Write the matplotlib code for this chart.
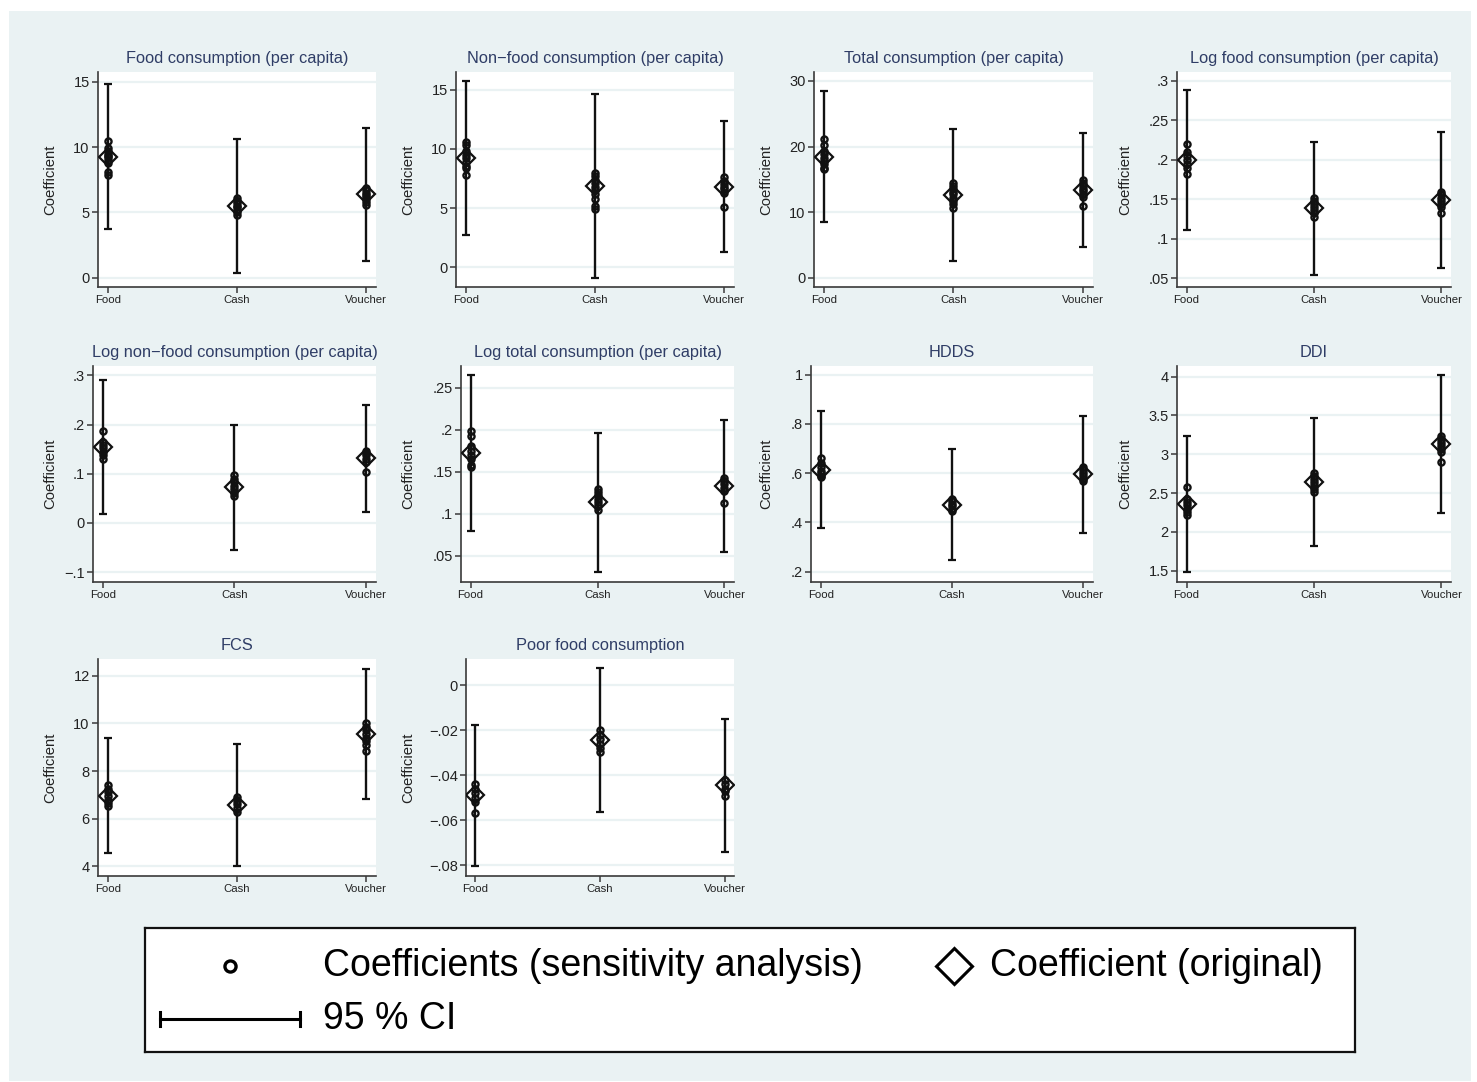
import matplotlib
matplotlib.use("Agg")
import matplotlib.pyplot as plt
from matplotlib.patches import Rectangle
from matplotlib.lines import Line2D

plt.rcParams['font.family'] = ['Liberation Sans', 'DejaVu Sans']

# ---------------- data ----------------
groups = ["Food", "Cash", "Voucher"]

titles = [
    "Food consumption (per capita)",
    "Non\u2212food consumption (per capita)",
    "Total consumption (per capita)",
    "Log food consumption (per capita)",
    "Log non\u2212food consumption (per capita)",
    "Log total consumption (per capita)",
    "HDDS",
    "DDI",
    "FCS",
    "Poor food consumption",
]

coef_orig = [
    [9.23, 5.49, 6.38],
    [9.20, 6.87, 6.81],
    [18.45, 12.62, 13.38],
    [0.1997, 0.1385, 0.149],
    [0.1547, 0.0723, 0.1324],
    [0.1725, 0.1136, 0.133],
    [0.6128, 0.4712, 0.598],
    [2.356, 2.643, 3.131],
    [6.97, 6.578, 9.56],
    [-0.0488, -0.0242, -0.0444],
]

ci_low = [
    [3.71, 0.38, 1.27],
    [2.73, -0.93, 1.27],
    [8.51, 2.53, 4.71],
    [0.111, 0.0538, 0.0631],
    [0.0182, -0.0547, 0.023],
    [0.080, 0.0306, 0.0547],
    [0.3754, 0.2459, 0.3578],
    [1.483, 1.817, 2.241],
    [4.56, 4.01, 6.816],
    [-0.0803, -0.0561, -0.0739],
]

ci_high = [
    [14.82, 10.58, 11.49],
    [15.76, 14.64, 12.38],
    [28.43, 22.66, 22.05],
    [0.2886, 0.2229, 0.2347],
    [0.2912, 0.1986, 0.2405],
    [0.2654, 0.1966, 0.2117],
    [0.8516, 0.6978, 0.834],
    [3.238, 3.465, 4.021],
    [9.366, 9.128, 12.29],
    [-0.0177, 0.0076, -0.0150],
]

sens_food = [
    [10.45, 9.9, 9.7, 9.5, 9.3, 9.2, 9.0, 8.8, 8.1, 7.85],
    [10.6, 10.3, 9.8, 9.5, 9.2, 8.9, 8.6, 8.4, 7.8],
    [21.2, 20.2, 19.3, 18.8, 18.2, 17.8, 17.3, 16.8, 16.6],
    [0.22, 0.21, 0.205, 0.20, 0.195, 0.19, 0.182],
    [0.187, 0.165, 0.158, 0.152, 0.145, 0.138, 0.130],
    [0.198, 0.192, 0.180, 0.175, 0.170, 0.165, 0.158, 0.155],
    [0.662, 0.640, 0.625, 0.610, 0.600, 0.590, 0.583],
    [2.575, 2.42, 2.38, 2.34, 2.30, 2.26, 2.22],
    [7.4, 7.25, 7.1, 6.95, 6.8, 6.65, 6.55],
    [-0.044, -0.046, -0.048, -0.050, -0.052, -0.0565],
]

sens_cash = [
    [6.1, 5.9, 5.7, 5.5, 5.4, 5.2, 5.0, 4.8],
    [8.0, 7.7, 7.4, 7.1, 6.8, 6.5, 6.2, 5.8, 5.2, 4.9],
    [14.4, 14.0, 13.6, 13.1, 12.7, 12.2, 11.7, 11.2, 10.6],
    [0.152, 0.148, 0.144, 0.140, 0.136, 0.132, 0.127],
    [0.097, 0.090, 0.083, 0.075, 0.068, 0.060, 0.054],
    [0.130, 0.126, 0.122, 0.118, 0.114, 0.110, 0.105],
    [0.497, 0.485, 0.475, 0.465, 0.455, 0.446],
    [2.76, 2.72, 2.68, 2.64, 2.60, 2.55, 2.51],
    [6.9, 6.75, 6.6, 6.45, 6.3],
    [-0.020, -0.022, -0.024, -0.026, -0.028, -0.0295],
]

sens_voucher = [
    [6.9, 6.7, 6.5, 6.3, 6.2, 6.0, 5.8, 5.55],
    [7.6, 7.3, 7.0, 6.8, 6.6, 6.3, 5.1],
    [14.9, 14.5, 14.0, 13.6, 13.2, 12.8, 12.3, 11.0],
    [0.159, 0.156, 0.152, 0.148, 0.144, 0.140, 0.133],
    [0.147, 0.142, 0.137, 0.130, 0.124, 0.104],
    [0.142, 0.139, 0.135, 0.131, 0.127, 0.113],
    [0.625, 0.612, 0.600, 0.588, 0.578, 0.567],
    [3.23, 3.19, 3.15, 3.11, 3.07, 3.03, 2.90],
    [10.0, 9.85, 9.7, 9.55, 9.4, 9.25, 9.1, 8.82],
    [-0.042, -0.044, -0.046, -0.047, -0.049],
]

y_ticks = [
    [0, 5, 10, 15],
    [0, 5, 10, 15],
    [0, 10, 20, 30],
    [0.05, 0.1, 0.15, 0.2, 0.25, 0.3],
    [-0.1, 0, 0.1, 0.2, 0.3],
    [0.05, 0.1, 0.15, 0.2, 0.25],
    [0.2, 0.4, 0.6, 0.8, 1.0],
    [1.5, 2, 2.5, 3, 3.5, 4],
    [4, 6, 8, 10, 12],
    [-0.08, -0.06, -0.04, -0.02, 0],
]

legend_labels = ["Coefficients (sensitivity analysis)", "Coefficient (original)", "95 % CI"]

# ---------------- layout (pixels) ----------------
W, H = 1477, 1082
y_limits = [
    (-0.71, 15.74), (-1.69, 16.52), (-1.42, 31.37), (0.0386, 0.3114),
    (-0.1203, 0.319), (0.0188, 0.2757), (0.158, 1.035), (1.354, 4.137),
    (3.594, 12.70), (-0.0847, 0.01173),
]
# left, right, top, bottom of each plot region
boxes = [
    (98, 376, 72, 287), (456, 734, 72, 287), (814, 1093, 72, 287), (1177, 1451, 72, 287),
    (93, 376, 366, 582), (461, 734, 366, 582), (811, 1093, 366, 582), (1177, 1451, 366, 582),
    (98, 376, 659, 876), (466, 734, 659, 876),
]
ylabel_x = [57, 415, 773, 1132, 57, 415, 773, 1132, 57, 415]

BG = "#EAF2F3"
TITLE_C = "#2F3D66"
AX_C = "#3a3a3a"


def stata_fmt(v):
    if abs(v) < 1e-12:
        return "0"
    s = f"{abs(v):g}"
    if s.startswith("0."):
        s = s[1:]
    return ("\u2212" if v < 0 else "") + s


fig = plt.figure(figsize=(W / 100, H / 100), dpi=100, facecolor="white")
fig.patches.append(Rectangle((9 / W, 1 - 1081 / H), (1471 - 9) / W, (1081 - 11) / H,
                             transform=fig.transFigure, facecolor=BG, edgecolor="none", zorder=-10))

xpos = [1, 2, 3]
for i in range(len(titles)):
    l, r, t, b = boxes[i]
    ax = fig.add_axes([l / W, 1 - b / H, (r - l) / W, (b - t) / H])
    ax.set_facecolor("white")
    ax.set_xlim(0.925, 3.075)
    ax.set_ylim(*y_limits[i])
    for s in ["top", "right"]:
        ax.spines[s].set_visible(False)
    for s in ["left", "bottom"]:
        ax.spines[s].set_color(AX_C)
        ax.spines[s].set_linewidth(1.2)

    ax.set_yticks(y_ticks[i])
    ax.set_yticklabels([stata_fmt(v) for v in y_ticks[i]], fontsize=10.5, color="#222222")
    ax.set_xticks(xpos)
    ax.set_xticklabels(groups, fontsize=8.2, color="#222222")
    ax.tick_params(axis="both", length=4, width=1.1, color=AX_C, pad=2)
    ax.yaxis.grid(True, color=BG, linewidth=1.6)
    ax.set_axisbelow(True)

    # CI
    for j in range(3):
        ax.errorbar(xpos[j], coef_orig[i][j],
                    yerr=[[coef_orig[i][j] - ci_low[i][j]], [ci_high[i][j] - coef_orig[i][j]]],
                    fmt="none", ecolor="#111111", elinewidth=1.7, capsize=3.2, capthick=1.6, zorder=2)
    # sensitivity coefficients
    for j, sens in enumerate([sens_food[i], sens_cash[i], sens_voucher[i]]):
        ax.plot([xpos[j]] * len(sens), sens, linestyle="none", marker="o", markersize=4.4,
                markerfacecolor="none", markeredgecolor="#111111", markeredgewidth=1.7, zorder=3)
    # original coefficient
    ax.plot(xpos, coef_orig[i], linestyle="none", marker="D", markersize=9.5,
            markerfacecolor="none", markeredgecolor="#111111", markeredgewidth=1.6, zorder=4)

    ax.text(0.5, 1 + 14 / (b - t), titles[i], transform=ax.transAxes, ha="center", va="center",
            fontsize=11.8, color=TITLE_C)
    ax.set_ylabel("Coefficient", fontsize=10.7, color="#222222")
    ax.yaxis.set_label_coords((ylabel_x[i] - l) / (r - l), 0.5)

# ---------------- legend ----------------
ll, lr, lt, lb = 145, 1355, 928, 1052
lax = fig.add_axes([ll / W, 1 - lb / H, (lr - ll) / W, (lb - lt) / H])
lax.set_facecolor("white")
lax.set_xlim(0, 1)
lax.set_ylim(0, 1)
lax.set_xticks([])
lax.set_yticks([])
for s in lax.spines.values():
    s.set_color("#111111")
    s.set_linewidth(1.6)

row1, row2 = 0.69, 0.265
lax.add_line(Line2D([0.0702], [row1], linestyle="none", marker="o", markersize=8,
                    markerfacecolor="none", markeredgecolor="black", markeredgewidth=2.4))
lax.text(0.147, row1, legend_labels[0], fontsize=27, va="center", ha="left")
lax.add_line(Line2D([0.669], [row1], linestyle="none", marker="D", markersize=18.5,
                    markerfacecolor="none", markeredgecolor="black", markeredgewidth=2.2))
lax.text(0.698, row1, legend_labels[1], fontsize=27, va="center", ha="left")
lax.add_line(Line2D([0.0124, 0.128], [row2, row2], color="black", linewidth=2.2))
lax.add_line(Line2D([0.0124, 0.0124], [row2 - 0.055, row2 + 0.055], color="black", linewidth=2.2))
lax.add_line(Line2D([0.128, 0.128], [row2 - 0.055, row2 + 0.055], color="black", linewidth=2.2))
lax.text(0.147, row2, legend_labels[2], fontsize=27, va="center", ha="left")

fig.savefig("out.png", dpi=100, facecolor="white")
